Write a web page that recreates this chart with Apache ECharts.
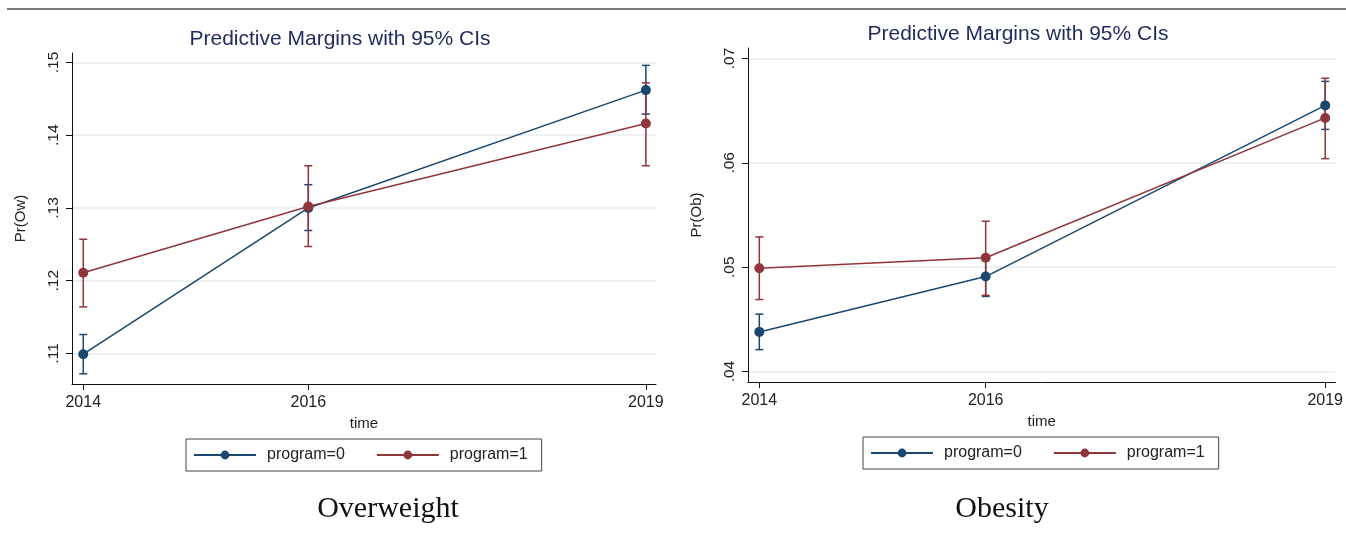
<!DOCTYPE html>
<html>
<head>
<meta charset="utf-8">
<script src="https://cdn.jsdelivr.net/npm/echarts@6/dist/echarts.min.js"></script>
<style>
  html, body { margin: 0; padding: 0; background: #fff; }
  #chart { width: 1346px; height: 553px; }
</style>
</head>
<body>
<div id="chart"></div>
<script>
// Survey waves
const years = [2014, 2016, 2019];

// Overweight: predicted probability and 95% CI by program group
const owProg0 = [0.1099, 0.1300, 0.1462];
const owProg0Lo = [0.1072, 0.1269, 0.1429];
const owProg0Hi = [0.1126, 0.1332, 0.1496];
const owProg1 = [0.1211, 0.1302, 0.1416];
const owProg1Lo = [0.1164, 0.1247, 0.1358];
const owProg1Hi = [0.1257, 0.1358, 0.1472];

// Obesity: predicted probability and 95% CI by program group
const obProg0 = [0.0438, 0.0491, 0.0655];
const obProg0Lo = [0.0421, 0.0472, 0.0632];
const obProg0Hi = [0.0455, 0.0510, 0.0678];
const obProg1 = [0.0499, 0.0509, 0.0643];
const obProg1Lo = [0.0469, 0.0473, 0.0604];
const obProg1Hi = [0.0529, 0.0544, 0.0681];

// Axis tick values
const owTicks = [0.11, 0.12, 0.13, 0.14, 0.15];
const obTicks = [0.04, 0.05, 0.06, 0.07];

const seriesNames = ['program=0', 'program=1'];
const NAVY = '#1a476f';
const MAROON = '#90353b';
const SANS = '"Liberation Sans", Arial, sans-serif';

const fmtProb = v => String(+v.toFixed(2)).replace(/^0/, '');
const fmtYear = v => String(Math.round(v));

const pairs = (xs, ys) => xs.map((x, i) => [x, ys[i]]);
const ciRows = (xs, lo, hi) => xs.map((x, i) => [x, lo[i], hi[i]]);

function errorBars(gridIdx, rows, color) {
  return {
    type: 'custom',
    xAxisIndex: gridIdx,
    yAxisIndex: gridIdx,
    data: rows,
    encode: { x: 0, y: [1, 2] },
    z: 1,
    silent: true,
    renderItem(params, api) {
      const x = api.value(0);
      const top = api.coord([x, api.value(2)]);
      const bot = api.coord([x, api.value(1)]);
      const cap = 4;
      const style = { stroke: color, lineWidth: 1.5 };
      return {
        type: 'group',
        children: [
          { type: 'line', shape: { x1: top[0], y1: top[1], x2: bot[0], y2: bot[1] }, style },
          { type: 'line', shape: { x1: top[0] - cap, y1: top[1], x2: top[0] + cap, y2: top[1] }, style },
          { type: 'line', shape: { x1: bot[0] - cap, y1: bot[1], x2: bot[0] + cap, y2: bot[1] }, style }
        ]
      };
    }
  };
}

function lineSeries(gridIdx, name, ys, color) {
  return {
    type: 'line',
    name,
    xAxisIndex: gridIdx,
    yAxisIndex: gridIdx,
    data: pairs(years, ys),
    symbol: 'circle',
    symbolSize: 10,
    showSymbol: true,
    z: 3,
    itemStyle: { color },
    lineStyle: { color, width: 1.5 }
  };
}

function xAxisFor(gridIdx) {
  return {
    type: 'value',
    gridIndex: gridIdx,
    min: 2013.9,
    max: 2019.09,
    name: 'time',
    nameLocation: 'middle',
    nameGap: 30,
    nameTextStyle: { fontFamily: SANS, fontSize: 15, color: '#222' },
    axisLine: { show: true, lineStyle: { color: '#111', width: 1 } },
    axisTick: { show: true, customValues: years, length: 6, lineStyle: { color: '#111' } },
    axisLabel: { customValues: years, formatter: fmtYear, fontFamily: SANS, fontSize: 16, color: '#222', margin: 11 },
    splitLine: { show: false }
  };
}

function yAxisFor(gridIdx, min, max, ticks, name) {
  return {
    type: 'value',
    gridIndex: gridIdx,
    min,
    max,
    name,
    nameLocation: 'middle',
    nameGap: 44,
    nameRotate: 90,
    nameTextStyle: { fontFamily: SANS, fontSize: 15, color: '#222' },
    axisLine: { show: true, lineStyle: { color: '#111', width: 1 } },
    axisTick: { show: true, customValues: ticks, length: 6, lineStyle: { color: '#111' } },
    axisLabel: {
      customValues: ticks,
      rotate: 90,
      fontFamily: SANS,
      fontSize: 15.5,
      color: '#222',
      margin: 10,
      formatter: fmtProb
    },
    splitLine: { show: true, lineStyle: { color: '#e6eeef', width: 1.5 } }
  };
}

function legendFor(left, top) {
  return {
    data: seriesNames,
    left,
    top,
    orient: 'horizontal',
    itemWidth: 62,
    itemHeight: 11,
    itemGap: 31,
    padding: [8, 14, 8, 7],
    borderColor: '#444',
    borderWidth: 1,
    textStyle: { fontFamily: SANS, fontSize: 16, color: '#222', padding: [0, 0, 0, 6] },
    selectedMode: false
  };
}

const titleStyle = { fontFamily: SANS, fontSize: 21, fontWeight: 'normal', color: '#1e2b5c' };
const captionStyle = { fontFamily: '"Liberation Serif", "Times New Roman", serif', fontSize: 30, fontWeight: 'normal', color: '#111' };

const chart = echarts.init(document.getElementById('chart'), null, { renderer: 'canvas' });

chart.setOption({
  animation: false,
  backgroundColor: '#fff',
  title: [
    { text: 'Predictive Margins with 95% CIs', left: 340, top: 29, padding: 0, textAlign: 'center', textStyle: titleStyle },
    { text: 'Predictive Margins with 95% CIs', left: 1018, top: 24, padding: 0, textAlign: 'center', textStyle: titleStyle },
    { text: 'Overweight', left: 388, top: 494, padding: 0, textAlign: 'center', textStyle: captionStyle },
    { text: 'Obesity', left: 1002, top: 494, padding: 0, textAlign: 'center', textStyle: captionStyle }
  ],
  graphic: [
    { type: 'line', shape: { x1: 7, y1: 9, x2: 1346, y2: 9 }, style: { stroke: '#7a7a7a', lineWidth: 2 } }
  ],
  grid: [
    { left: 72, right: 690, top: 53, bottom: 169 },
    { left: 748, right: 10, top: 48, bottom: 171 }
  ],
  legend: [legendFor(186, 439), legendFor(863, 437)],
  xAxis: [xAxisFor(0), xAxisFor(1)],
  yAxis: [
    yAxisFor(0, 0.1058, 0.1513, owTicks, 'Pr(Ow)'),
    yAxisFor(1, 0.0390, 0.0710, obTicks, 'Pr(Ob)')
  ],
  series: [
    errorBars(0, ciRows(years, owProg0Lo, owProg0Hi), NAVY),
    errorBars(0, ciRows(years, owProg1Lo, owProg1Hi), MAROON),
    lineSeries(0, seriesNames[0], owProg0, NAVY),
    lineSeries(0, seriesNames[1], owProg1, MAROON),
    errorBars(1, ciRows(years, obProg0Lo, obProg0Hi), NAVY),
    errorBars(1, ciRows(years, obProg1Lo, obProg1Hi), MAROON),
    lineSeries(1, seriesNames[0], obProg0, NAVY),
    lineSeries(1, seriesNames[1], obProg1, MAROON)
  ]
});
</script>
</body>
</html>
